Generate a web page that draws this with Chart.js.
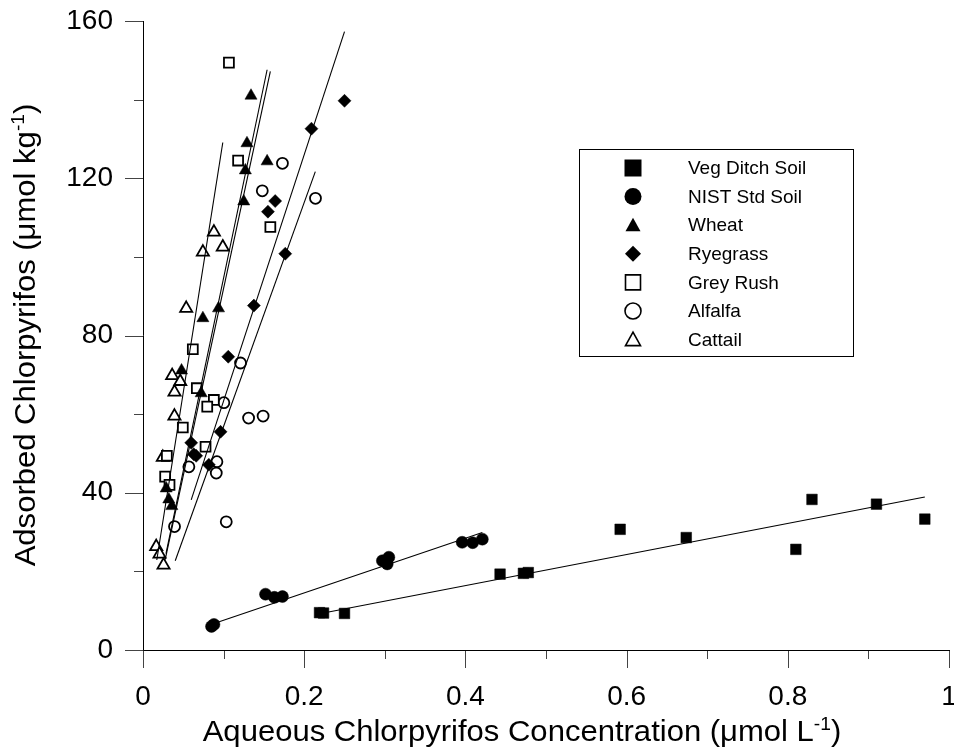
<!DOCTYPE html>
<html>
<head>
<meta charset="utf-8">
<script src="https://cdn.jsdelivr.net/npm/chart.js@4.4.1/dist/chart.umd.min.js"></script>
<style>
  html, body { margin: 0; padding: 0; background: #fff; }
  canvas { display: block; }
</style>
</head>
<body>
<canvas id="chart" width="954" height="751"></canvas>
<script>
// series names (legend order)
const seriesNames = ['Veg Ditch Soil', 'NIST Std Soil', 'Wheat', 'Ryegrass', 'Grey Rush', 'Alfalfa', 'Cattail'];

// tick values
const xMajorTicks = [0, 0.2, 0.4, 0.6, 0.8, 1];
const xMinorTicks = [0.1, 0.3, 0.5, 0.7, 0.9];
const yMajorTicks = [0, 40, 80, 120, 160];
const yMinorTicks = [20, 60, 100, 140];

// measured points (aqueous conc, adsorbed)
const vegX = [0.219, 0.224, 0.250, 0.443, 0.472, 0.478, 0.592, 0.674, 0.810, 0.830, 0.910, 0.970];
const vegY = [9.5, 9.4, 9.3, 19.3, 19.5, 19.7, 30.7, 28.6, 25.6, 38.3, 37.1, 33.3];

const nistX = [0.085, 0.088, 0.152, 0.163, 0.173, 0.297, 0.303, 0.305, 0.396, 0.409, 0.421];
const nistY = [6.0, 6.5, 14.2, 13.4, 13.6, 22.7, 21.9, 23.6, 27.4, 27.3, 28.2];

const wheatX = [0.134, 0.129, 0.154, 0.127, 0.125, 0.0937, 0.0743, 0.0478, 0.0722, 0.0288, 0.032, 0.0358];
const wheatY = [141.0, 128.9, 124.3, 122.0, 114.1, 86.9, 84.4, 71.1, 65.3, 41.1, 38.3, 36.6];

const ryeX = [0.250, 0.209, 0.164, 0.155, 0.1765, 0.1376, 0.1058, 0.0962, 0.0598, 0.063, 0.066, 0.0817];
const ryeY = [139.7, 132.6, 114.2, 111.5, 100.8, 87.6, 74.6, 55.5, 52.7, 49.8, 49.4, 47.1];

const rushX = [0.1066, 0.118, 0.158, 0.0618, 0.0668, 0.0879, 0.0797, 0.0494, 0.0776, 0.0296, 0.0275, 0.0329];
const rushY = [149.4, 124.5, 107.6, 76.5, 66.6, 63.6, 61.9, 56.6, 51.7, 49.4, 44.1, 42.0];

const alfX = [0.173, 0.148, 0.214, 0.121, 0.1003, 0.131, 0.149, 0.0569, 0.0917, 0.0909, 0.1033, 0.0391];
const alfY = [123.8, 116.8, 114.9, 73.0, 62.9, 59.0, 59.5, 46.6, 47.9, 45.0, 32.6, 31.4];

const catX = [0.088, 0.0743, 0.099, 0.0536, 0.0362, 0.0462, 0.0391, 0.039, 0.0246, 0.0164, 0.0205, 0.0255];
const catY = [106.3, 101.2, 102.5, 86.9, 69.8, 68.3, 65.6, 59.5, 49.0, 26.3, 24.4, 21.6];

// fitted line end points
const vegLineX = [0.219, 0.970];
const vegLineY = [9.2, 38.9];
const nistLineX = [0.089, 0.421];
const nistLineY = [6.8, 29.9];
const wheatLineX = [0.0285, 0.154];
const wheatLineY = [24.5, 147.6];
const rushLineX = [0.0275, 0.158];
const rushLineY = [23.0, 147.2];
const ryeLineX = [0.0598, 0.250];
const ryeLineY = [38.2, 157.3];
const alfLineX = [0.040, 0.2138];
const alfLineY = [22.7, 121.7];
const catLineX = [0.0171, 0.099];
const catLineY = [22.9, 129.1];

const FONT = '"Liberation Sans", Arial, Helvetica, sans-serif';

function pts(xs, ys) {
  return xs.map((x, i) => ({ x: x, y: ys[i] }));
}

function markerSet(label, xs, ys, style, radius, filled) {
  return {
    label: label,
    data: pts(xs, ys),
    showLine: false,
    pointStyle: style,
    pointRadius: radius,
    pointHoverRadius: radius,
    pointBackgroundColor: filled ? '#000' : '#fff',
    pointBorderColor: '#000',
    pointBorderWidth: filled ? 0.5 : 1.8
  };
}

function lineSet(xs, ys) {
  return {
    label: '',
    data: pts(xs, ys),
    showLine: true,
    pointRadius: 0,
    borderColor: '#000',
    borderWidth: 1.1,
    fill: false
  };
}

// axis lines and tick marks, long for major and short for minor
const axisPlugin = {
  id: 'axisTicks',
  afterDraw(chart) {
    const { ctx, chartArea, scales } = chart;
    const xs = scales.x, ys = scales.y;
    ctx.save();
    ctx.strokeStyle = '#444';
    ctx.lineWidth = 1;
    xMajorTicks.concat(xMinorTicks).forEach(v => {
      const px = Math.round(xs.getPixelForValue(v)) + 0.5;
      const len = xMajorTicks.includes(v) ? 18 : 9;
      ctx.beginPath();
      ctx.moveTo(px, chartArea.bottom);
      ctx.lineTo(px, chartArea.bottom + len);
      ctx.stroke();
    });
    yMajorTicks.concat(yMinorTicks).forEach(v => {
      const py = Math.round(ys.getPixelForValue(v)) + 0.5;
      const len = yMajorTicks.includes(v) ? 18 : 9;
      ctx.beginPath();
      ctx.moveTo(chartArea.left, py);
      ctx.lineTo(chartArea.left - len, py);
      ctx.stroke();
    });
    ctx.strokeStyle = '#000';
    ctx.beginPath();
    const x0 = Math.round(chartArea.left) + 0.5;
    const y0 = Math.round(chartArea.bottom) + 0.5;
    ctx.moveTo(x0, Math.round(ys.getPixelForValue(160)));
    ctx.lineTo(x0, y0);
    ctx.lineTo(Math.round(xs.getPixelForValue(1)) + 1, y0);
    ctx.stroke();
    ctx.restore();
  }
};

// text with a superscript part, slightly widened like the original
function drawRich(ctx, parts, size, stretch) {
  let total = 0;
  parts.forEach(p => {
    ctx.font = (p[1] ? Math.round(size * 0.62) : size) + 'px ' + FONT;
    total += ctx.measureText(p[0]).width;
  });
  ctx.scale(stretch, 1);
  let x = -total / 2;
  parts.forEach(p => {
    ctx.font = (p[1] ? Math.round(size * 0.62) : size) + 'px ' + FONT;
    ctx.fillText(p[0], x, p[1] ? -size * 0.38 : 0);
    x += ctx.measureText(p[0]).width;
  });
}

const titlePlugin = {
  id: 'axisTitles',
  afterDraw(chart) {
    const ctx = chart.ctx;
    ctx.save();
    ctx.fillStyle = '#000';
    ctx.textAlign = 'left';
    ctx.textBaseline = 'alphabetic';
    ctx.translate(522, 741);
    drawRich(ctx, [['Aqueous Chlorpyrifos Concentration (\u03bcmol L', false], ['-1', true], [')', false]], 29, 1.07);
    ctx.restore();

    ctx.save();
    ctx.fillStyle = '#000';
    ctx.textAlign = 'left';
    ctx.textBaseline = 'alphabetic';
    ctx.translate(35, 335);
    ctx.rotate(-Math.PI / 2);
    drawRich(ctx, [['Adsorbed Chlorpyrifos (\u03bcmol kg', false], ['-1', true], [')', false]], 29, 1.07);
    ctx.restore();
  }
};

function legendMarker(ctx, kind, x, y) {
  ctx.beginPath();
  if (kind === 'sq') {
    ctx.rect(x - 8.5, y - 8.5, 17, 17);
  } else if (kind === 'osq') {
    ctx.rect(x - 7.5, y - 7.5, 15, 15);
  } else if (kind === 'ci') {
    ctx.arc(x, y, 8.5, 0, Math.PI * 2);
  } else if (kind === 'oci') {
    ctx.arc(x, y, 8, 0, Math.PI * 2);
  } else if (kind === 'tri' || kind === 'otri') {
    ctx.moveTo(x, y - 7.5);
    ctx.lineTo(x + 7.5, y + 6);
    ctx.lineTo(x - 7.5, y + 6);
    ctx.closePath();
  } else if (kind === 'dia') {
    ctx.moveTo(x, y - 8);
    ctx.lineTo(x + 8, y);
    ctx.lineTo(x, y + 8);
    ctx.lineTo(x - 8, y);
    ctx.closePath();
  }
  if (kind.charAt(0) === 'o') {
    ctx.fillStyle = '#fff';
    ctx.fill();
    ctx.lineWidth = 1.6;
    ctx.strokeStyle = '#000';
    ctx.stroke();
  } else {
    ctx.fillStyle = '#000';
    ctx.fill();
  }
}

const legendPlugin = {
  id: 'boxLegend',
  afterDraw(chart) {
    const ctx = chart.ctx;
    const kinds = ['sq', 'ci', 'tri', 'dia', 'osq', 'oci', 'otri'];
    ctx.save();
    ctx.fillStyle = '#fff';
    ctx.fillRect(579, 149, 274, 207);
    ctx.strokeStyle = '#000';
    ctx.lineWidth = 1;
    ctx.strokeRect(579.5, 149.5, 274, 207);
    seriesNames.forEach((name, i) => {
      const y = 168 + i * 28.6;
      legendMarker(ctx, kinds[i], 633, y);
      ctx.fillStyle = '#000';
      ctx.font = '19px ' + FONT;
      ctx.textAlign = 'left';
      ctx.textBaseline = 'middle';
      ctx.fillText(name, 688, y + 1);
    });
    ctx.restore();
  }
};

new Chart(document.getElementById('chart').getContext('2d'), {
  type: 'scatter',
  data: {
    datasets: [
      lineSet(vegLineX, vegLineY),
      lineSet(nistLineX, nistLineY),
      lineSet(wheatLineX, wheatLineY),
      lineSet(rushLineX, rushLineY),
      lineSet(ryeLineX, ryeLineY),
      lineSet(alfLineX, alfLineY),
      lineSet(catLineX, catLineY),
      markerSet(seriesNames[0], vegX, vegY, 'rect', 7.5, true),
      markerSet(seriesNames[1], nistX, nistY, 'circle', 6, true),
      markerSet(seriesNames[2], wheatX, wheatY, 'triangle', 7, true),
      markerSet(seriesNames[3], ryeX, ryeY, 'rectRot', 6.5, true),
      markerSet(seriesNames[4], rushX, rushY, 'rect', 7, false),
      markerSet(seriesNames[5], alfX, alfY, 'circle', 5.5, false),
      markerSet(seriesNames[6], catX, catY, 'triangle', 7, false)
    ]
  },
  options: {
    responsive: false,
    animation: false,
    devicePixelRatio: 1,
    layout: { autoPadding: false, padding: { top: 21, right: 5, left: 0, bottom: 0 } },
    plugins: {
      legend: { display: false },
      tooltip: { enabled: false }
    },
    scales: {
      x: {
        type: 'linear',
        min: 0,
        max: 1,
        grid: { display: false, drawTicks: false, tickLength: 0 },
        border: { display: false },
        ticks: {
          stepSize: 0.2,
          padding: 30,
          color: '#000',
          font: { family: FONT, size: 28 },
          maxRotation: 0,
          callback: v => String(Number(v.toFixed(1)))
        },
        afterFit(s) {
          s.height = 101;
          s.paddingLeft = 0;
          s.paddingRight = 0;
        }
      },
      y: {
        type: 'linear',
        min: 0,
        max: 160,
        grid: { display: false, drawTicks: false, tickLength: 0 },
        border: { display: false },
        ticks: {
          stepSize: 40,
          padding: 30,
          color: '#000',
          font: { family: FONT, size: 28 }
        },
        afterFit(s) {
          s.width = 143;
          s.paddingTop = 0;
          s.paddingBottom = 0;
        }
      }
    }
  },
  plugins: [axisPlugin, titlePlugin, legendPlugin]
});
</script>
</body>
</html>
